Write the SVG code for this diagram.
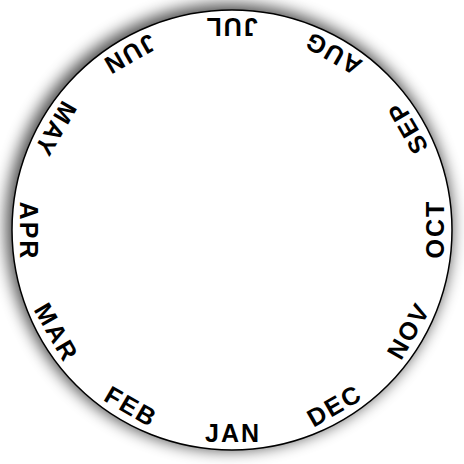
<svg xmlns="http://www.w3.org/2000/svg" width="464" height="464" viewBox="0 0 464 464">
  <style>
    .m { font-family: "Liberation Sans", Arial, sans-serif; font-weight: bold; font-size: 25px; letter-spacing: 2px; text-anchor: middle; fill: #000; }
  </style>
  <defs>
    <filter id="sh" x="-20%" y="-20%" width="140%" height="140%">
      <feGaussianBlur stdDeviation="8"/>
    </filter>
  </defs>
  <rect width="464" height="464" fill="#fff"/>
  <g id="dial">
    <circle cx="229" cy="227" r="223" fill="#000" opacity="0.7" filter="url(#sh)"/>
    <circle cx="232" cy="230" r="220" fill="#fff" stroke="#000" stroke-width="1.5"/>
  </g>
  <g id="months">
    <g id="jan" transform="rotate(0 232 230)"><text class="m" x="233" y="442">JAN</text></g>
    <g id="feb" transform="rotate(30 232 230)"><text class="m" x="233" y="442">FEB</text></g>
    <g id="mar" transform="rotate(60 232 230)"><text class="m" x="233" y="442">MAR</text></g>
    <g id="apr" transform="rotate(90 232 230)"><text class="m" x="233" y="442">APR</text></g>
    <g id="may" transform="rotate(120 232 230)"><text class="m" x="233" y="442">MAY</text></g>
    <g id="jun" transform="rotate(150 232 230)"><text class="m" x="233" y="442">JUN</text></g>
    <g id="jul" transform="rotate(180 232 230)"><text class="m" x="233" y="442">JUL</text></g>
    <g id="aug" transform="rotate(210 232 230)"><text class="m" x="233" y="442">AUG</text></g>
    <g id="sep" transform="rotate(240 232 230)"><text class="m" x="233" y="442">SEP</text></g>
    <g id="oct" transform="rotate(270 232 230)"><text class="m" x="233" y="442">OCT</text></g>
    <g id="nov" transform="rotate(300 232 230)"><text class="m" x="233" y="442">NOV</text></g>
    <g id="dec" transform="rotate(330 232 230)"><text class="m" x="233" y="442">DEC</text></g>
  </g>
</svg>
